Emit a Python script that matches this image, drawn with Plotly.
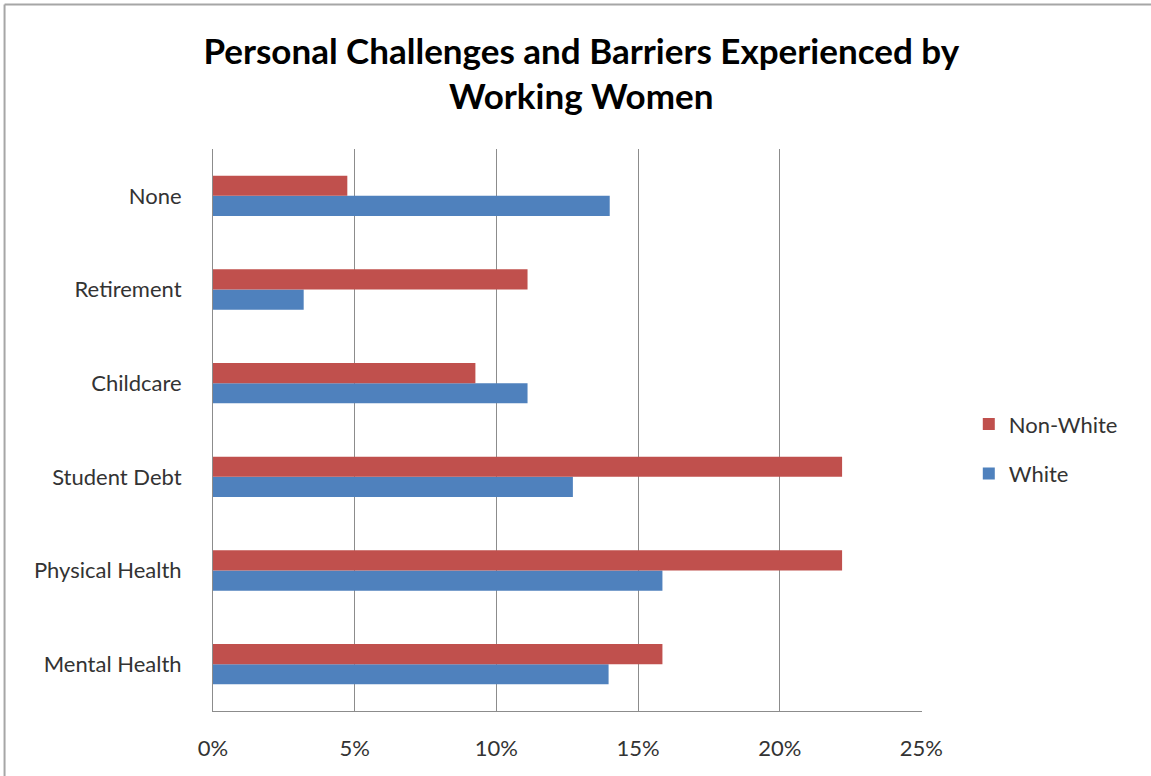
import plotly.graph_objects as go

categories = ["Mental Health", "Physical Health", "Student Debt", "Childcare", "Retirement", "None"]
white = [13.96, 15.86, 12.70, 11.10, 3.20, 14.0]
non_white = [15.86, 22.2, 22.2, 9.26, 11.10, 4.74]
x_ticks = [0, 5, 10, 15, 20, 25]
x_tick_labels = ["0%", "5%", "10%", "15%", "20%", "25%"]

FONT = "Lato"
fig = go.Figure()
fig.add_trace(go.Bar(y=categories, x=white, name="White", orientation="h", legendgroup="w",
                     legendrank=2, marker=dict(color="#4F81BD", line=dict(width=0))))
fig.add_trace(go.Bar(y=categories, x=non_white, name="Non-White", orientation="h", legendgroup="nw",
                     legendrank=1, marker=dict(color="#C0504D", line=dict(width=0))))

fig.update_layout(
    width=1151, height=776,
    margin=dict(l=213, r=229, t=149, b=65),
    paper_bgcolor="white", plot_bgcolor="white",
    barmode="group", bargap=0.57, bargroupgap=0,
    title=dict(text="<b>Personal Challenges and Barriers Experienced by<br>Working Women</b>",
               x=0.505, xanchor="center", y=0.918, yanchor="middle",
               font=dict(family=FONT, size=35, color="#000000")),
    legend=dict(x=1.066, xanchor="left", y=0.466, yanchor="middle",
                traceorder="grouped", font=dict(family=FONT, size=22, color="#333333"),
                itemsizing="constant", tracegroupgap=18, itemwidth=30),
    showlegend=True,
    font=dict(family=FONT, size=22, color="#333333"),
    shapes=[dict(type="line", xref="paper", yref="paper", x0=-0.294, x1=1.5, y0=1.257, y1=1.257,
                 line=dict(color="#A6A6A6", width=2)),
            dict(type="line", xref="paper", yref="paper", x0=-0.294, x1=-0.294, y0=-0.2, y1=1.257,
                 line=dict(color="#A6A6A6", width=2))],
)
fig.update_xaxes(range=[0, 25.02], tickvals=x_ticks, ticktext=x_tick_labels,
                 showgrid=True, gridcolor="#8C8C8C", gridwidth=1,
                 showline=True, linecolor="#8C8C8C", linewidth=1,
                 zeroline=False, ticks="", ticklabelstandoff=18,
                 tickfont=dict(family=FONT, size=22, color="#333333"), fixedrange=True)
fig.update_yaxes(showgrid=False, showline=True, linecolor="#8C8C8C", linewidth=1,
                 ticks="", ticklabelstandoff=26,
                 tickfont=dict(family=FONT, size=22, color="#333333"), fixedrange=True)

fig.write_html("out.html")
